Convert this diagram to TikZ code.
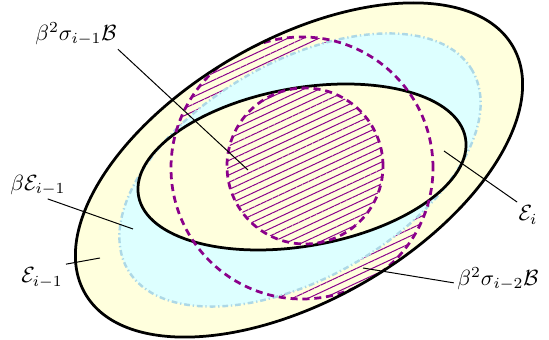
\documentclass[tikz,border=0pt]{standalone}
\usepackage{amsmath,amssymb}
\usepackage{tikz}
\usetikzlibrary{patterns.meta}
\definecolor{ellfill}   {HTML}{FFFFDD}
\definecolor{betafill}  {HTML}{DDFFFF}
\definecolor{betablue}  {HTML}{ADD8E6}
\definecolor{ballpurple}{HTML}{8B008B}

\begin{document}
\begin{tikzpicture}[x=0.4545pt,y=0.4545pt,
    ellline/.style={line width=1.25pt},
    betaline/.style={betablue, line width=1.1pt,
      dash pattern=on 2.6pt off 1.3pt on 0.6pt off 1.3pt},
    ballline/.style={ballpurple, line width=1.25pt,
      dash pattern=on 3.2pt off 2.2pt},
    hatch/.style={pattern={Lines[angle=25,distance=3pt,line width=0.45pt]},
      pattern color=ballpurple},
    lbl/.style={inner sep=1.5pt},
    pointer/.style={line width=0.45pt}]
  \useasboundingbox (0,0) rectangle (549,340);
  \coordinate (c)  at (299,170);  % E_{i-1}, beta E_{i-1}
  \coordinate (cb) at (300,170);
  \coordinate (ci) at (302,173);  % E_i
  \coordinate (b)  at (302,172);  % beta^2 sigma_{i-2} B
  \coordinate (s)  at (305,174);  % beta^2 sigma_{i-1} B

  % fills
  \fill[ellfill] (c) ellipse [x radius=247, y radius=130, rotate=30];
  \begin{scope}
    \clip (c) ellipse [x radius=247, y radius=130, rotate=30];
    \fill[hatch] (b) circle [radius=131];
  \end{scope}
  \fill[betafill] (cb) ellipse [x radius=199, y radius=108, rotate=30];
  \fill[ellfill] (ci) ellipse [x radius=166, y radius=79, rotate=10];
  \fill[hatch] (s) circle [radius=78];

  % borders
  \draw[betaline] (cb) ellipse [x radius=199, y radius=108, rotate=30];
  \draw[ellline] (ci) ellipse [x radius=166, y radius=79, rotate=10];
  \begin{scope}
    \clip (c) ellipse [x radius=247, y radius=130, rotate=30];
    \draw[ballline] (b) circle [radius=131];
  \end{scope}
  \draw[ballline] (s) circle [radius=78];
  \draw[ellline] (c) ellipse [x radius=247, y radius=130, rotate=30];

  % labels
  \node[lbl] (lab1) at (76,306) {$\beta^2\sigma_{i-1}\mathcal{B}$};
  \node[lbl] (lab2) at (38,155) {$\beta\mathcal{E}_{i-1}$};
  \node[lbl] (lab3) at (42,62)  {$\mathcal{E}_{i-1}$};
  \node[lbl] (lab4) at (528,125) {$\mathcal{E}_i$};
  \node[lbl] (lab5) at (498,61) {$\beta^2\sigma_{i-2}\mathcal{B}$};
  \coordinate (tip1) at (248,170);
  \coordinate (tip2) at (133,111);
  \coordinate (tip3) at (100,82);
  \coordinate (tip4) at (444,189);
  \coordinate (tip5) at (363,72);
  \draw[pointer] (lab1.-20) -- (tip1);
  \draw[pointer] (lab2.-55) -- (tip2);
  \draw[pointer] (lab3.30) -- (tip3);
  \draw[pointer] (lab4.130) -- (tip4);
  \draw[pointer] (lab5.185) -- (tip5);
\end{tikzpicture}
\end{document}
